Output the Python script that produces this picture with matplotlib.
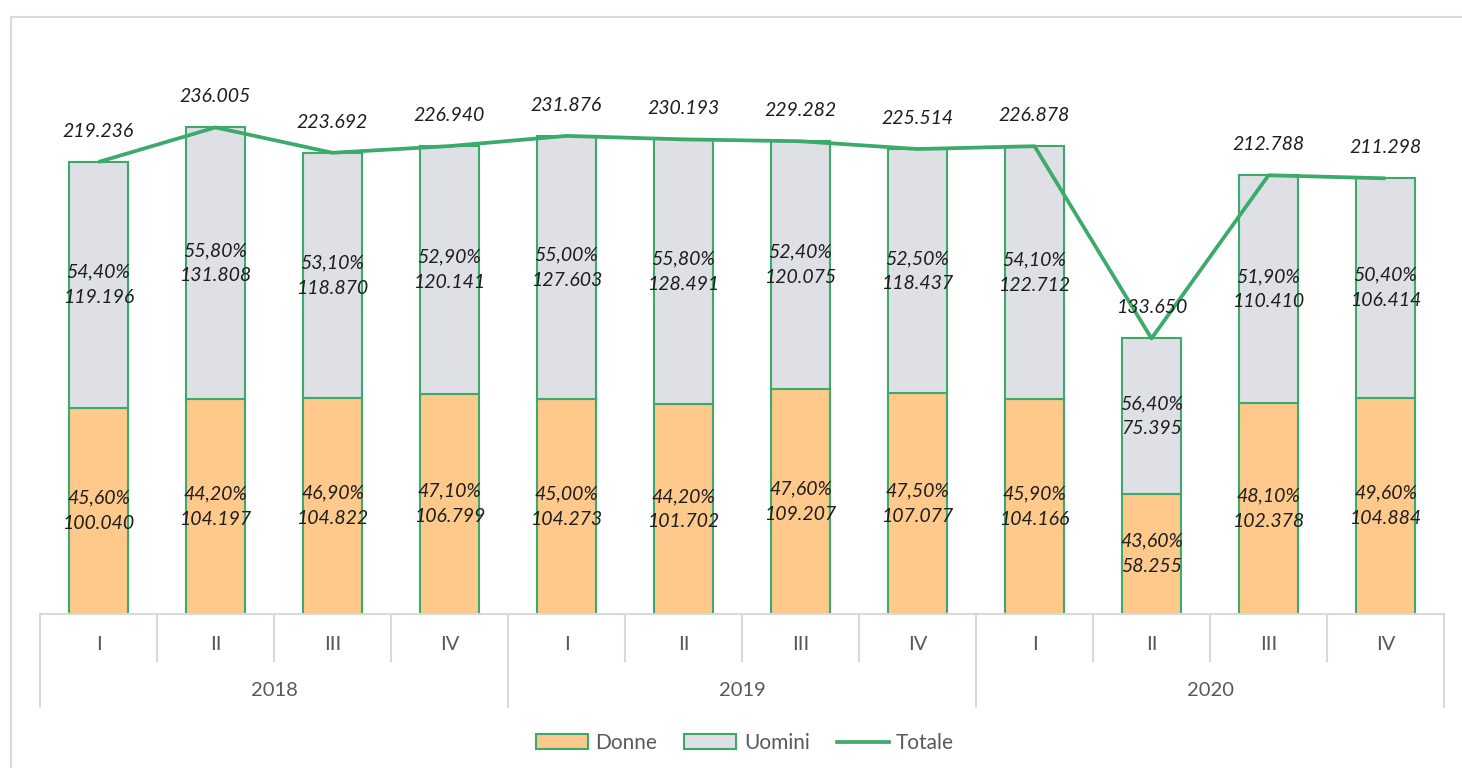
import matplotlib
matplotlib.use("Agg")
import matplotlib.pyplot as plt
from matplotlib.lines import Line2D
from matplotlib.patches import Patch
import matplotlib.transforms as mtransforms

# ---- data ----
quarters = ["I", "II", "III", "IV"] * 3
years = ["2018", "2019", "2020"]
donne = [100040, 104197, 104822, 106799, 104273, 101702, 109207, 107077, 104166, 58255, 102378, 104884]
uomini = [119196, 131808, 118870, 120141, 127603, 128491, 120075, 118437, 122712, 75395, 110410, 106414]
totale = [219236, 236005, 223692, 226940, 231876, 230193, 229282, 225514, 226878, 133650, 212788, 211298]
donne_pct = [45.6, 44.2, 46.9, 47.1, 45.0, 44.2, 47.6, 47.5, 45.9, 43.6, 48.1, 49.6]
uomini_pct = [54.4, 55.8, 53.1, 52.9, 55.0, 55.8, 52.4, 52.5, 54.1, 56.4, 51.9, 50.4]

C_DONNE = "#FFC98C"
C_UOMINI = "#DEE0E5"
C_GREEN = "#3BAA6B"
C_GRID = "#D9D9D9"
C_TICK = "#595959"
C_LAB = "#1E1E1E"
FONT = "Lato"
LAB_FS = 14


def fmt_num(v):
    return f"{v:,}".replace(",", ".")


def fmt_pct(p):
    return f"{p:.2f}%".replace(".", ",")


W, H = 1462, 768
fig = plt.figure(figsize=(W / 100, H / 100), dpi=100)
ax_left, ax_right, ax_bot_px, ax_top_px = 40, 1444, 614, 40
ax = fig.add_axes([ax_left / W, (H - ax_bot_px) / H, (ax_right - ax_left) / W, (ax_bot_px - ax_top_px) / H])

x = list(range(len(donne)))
ax.bar(x, donne, width=0.5, color=C_DONNE, edgecolor=C_GREEN, linewidth=1.5, zorder=2)
ax.bar(x, uomini, bottom=donne, width=0.5, color=C_UOMINI, edgecolor=C_GREEN, linewidth=1.5, zorder=2)
ax.plot(x, totale, color=C_GREEN, linewidth=2.7, zorder=3, solid_capstyle="butt")

ax.set_xlim(-0.5, len(x) - 0.5)
ax.set_ylim(0, (ax_bot_px - ax_top_px) * 485)

for i in x:
    ax.text(i, donne[i] / 2, fmt_pct(donne_pct[i]) + "\n" + fmt_num(donne[i]), ha="center", va="center",
            fontsize=LAB_FS, style="italic", family=FONT, color=C_LAB, linespacing=1.6, zorder=4)
    ax.text(i, donne[i] + uomini[i] / 2, fmt_pct(uomini_pct[i]) + "\n" + fmt_num(uomini[i]), ha="center",
            va="center", fontsize=LAB_FS, style="italic", family=FONT, color=C_LAB, linespacing=1.6, zorder=4)
    ax.annotate(fmt_num(totale[i]), (i, totale[i]), xytext=(0, 22), textcoords="offset points",
                ha="center", va="center", fontsize=LAB_FS, style="italic", family=FONT, color=C_LAB, zorder=4)

# axes styling
for s in ["top", "right", "left"]:
    ax.spines[s].set_visible(False)
ax.spines["bottom"].set_color(C_GRID)
ax.spines["bottom"].set_linewidth(1.5)
ax.set_xticks([])
ax.set_yticks([])

# multi-level category axis
trans = mtransforms.blended_transform_factory(ax.transData, ax.transAxes)
hpx = ax_bot_px - ax_top_px
y_q_lab = -(645 - ax_bot_px) / hpx
y_y_lab = -(690 - ax_bot_px) / hpx
y_q_sep = -(661 - ax_bot_px) / hpx
y_y_sep = -(707 - ax_bot_px) / hpx
for i in range(len(x) + 1):
    bottom = y_y_sep if i % 4 == 0 else y_q_sep
    ax.add_line(Line2D([i - 0.5, i - 0.5], [0, bottom], transform=trans, color=C_GRID, linewidth=1.5, clip_on=False))
for i, q in enumerate(quarters):
    ax.text(i, y_q_lab, q, transform=trans, ha="center", va="center", fontsize=14.5, family=FONT, color=C_TICK)
for j, yr in enumerate(years):
    ax.text(4 * j + 1.5, y_y_lab, yr, transform=trans, ha="center", va="center", fontsize=14.5, family=FONT, color=C_TICK)

# outer frame
fig.add_artist(Line2D([11 / W, 1.0], [1 - 17 / H, 1 - 17 / H], transform=fig.transFigure, color=C_GRID, linewidth=1.5))
fig.add_artist(Line2D([11 / W, 11 / W], [0, 1 - 17 / H], transform=fig.transFigure, color=C_GRID, linewidth=1.5))

# legend
handles = [Patch(facecolor=C_DONNE, edgecolor=C_GREEN, linewidth=1.5, label="Donne"),
           Patch(facecolor=C_UOMINI, edgecolor=C_GREEN, linewidth=1.5, label="Uomini"),
           Line2D([0], [0], color=C_GREEN, linewidth=2.7, label="Totale")]
leg = fig.legend(handles=handles, loc="center", bbox_to_anchor=(745 / W, 1 - 743 / H), ncol=3, frameon=False,
                 handlelength=2.5, handleheight=0.7, handletextpad=0.35, columnspacing=1.3,
                 prop={"family": FONT, "size": 15})
for t in leg.get_texts():
    t.set_color(C_TICK)

fig.savefig("out.png", dpi=100)
